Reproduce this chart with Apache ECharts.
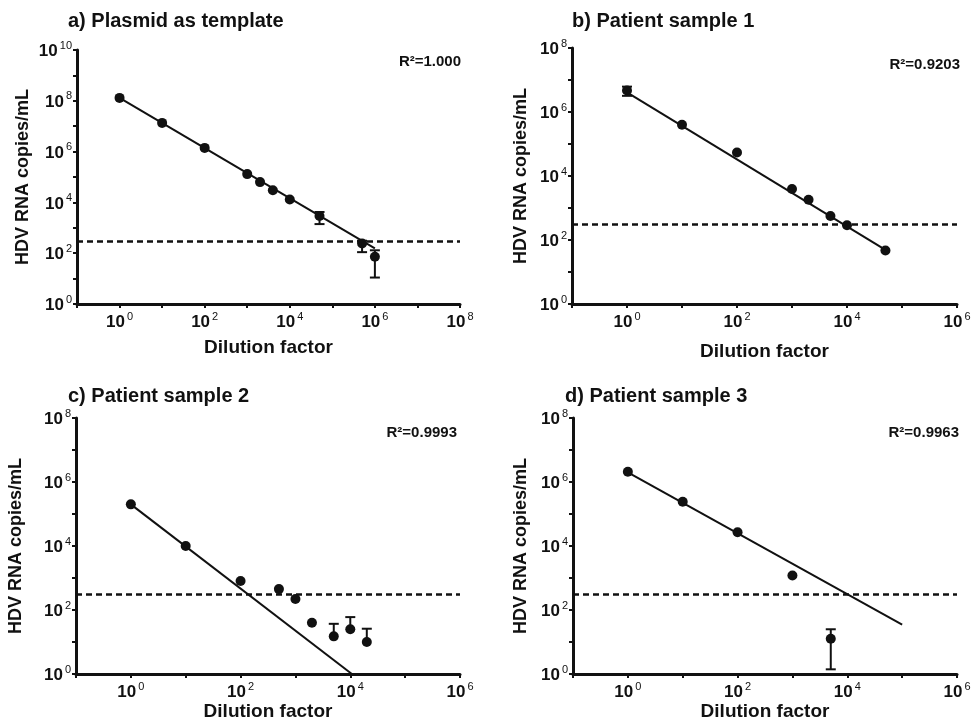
<!DOCTYPE html>
<html>
<head>
<meta charset="utf-8">
<script src="https://cdn.jsdelivr.net/npm/echarts@6/dist/echarts.min.js"></script>
<style>html,body{margin:0;padding:0;background:#fff}#c{width:971px;height:724px}</style>
</head>
<body>
<div id="c"></div>
<script>
// ---- data ----
const LOD = 300;

const titles = ['a) Plasmid as template', 'b) Patient sample 1', 'c) Patient sample 2', 'd) Patient sample 3'];
const r2Labels = ['R\u00B2=1.000', 'R\u00B2=0.9203', 'R\u00B2=0.9993', 'R\u00B2=0.9963'];
const xAxisName = 'Dilution factor';
const yAxisName = 'HDV RNA copies/mL';

const aX = [1, 10, 100, 1000, 2000, 4000, 10000, 50000, 500000, 1000000];
const aY = [1.3e8, 1.35e7, 1.4e6, 1.3e5, 6.3e4, 3.0e4, 1.3e4, 2.9e3, 2.4e2, 73];
const aLo = [null, null, null, null, null, null, null, 1.4e3, 1.1e2, 11];
const aHi = [null, null, null, null, null, null, null, 4.2e3, 3.1e2, 1.3e2];
const aFit = [[1, 1.3e8], [1e6, 1.55e2]];

const bX = [1, 10, 100, 1000, 2000, 5000, 10000, 50000];
const bY = [4.7e6, 4.0e5, 5.4e4, 3.9e3, 1.8e3, 5.6e2, 2.9e2, 47];
const bLo = [3.2e6, null, null, null, null, null, null, null];
const bHi = [6.2e6, null, null, null, null, null, null, null];
const bFit = [[1, 4.1e6], [5e4, 49]];

const cX = [1, 10, 100, 500, 1000, 2000, 5000, 10000, 20000];
const cY = [2.0e5, 1.0e4, 8.1e2, 4.5e2, 2.2e2, 40, 15, 25, 10];
const cLo = [null, null, null, null, null, null, null, null, null];
const cHi = [null, null, null, null, null, null, 37, 60, 26];
const cFit = [[1, 2.0e5], [1.07e4, 1]];

const dX = [1, 10, 100, 1000, 5000];
const dY = [2.1e6, 2.4e5, 2.7e4, 1.2e3, 12.7];
const dLo = [null, null, null, null, 1.4];
const dHi = [null, null, null, null, 25];
const dFit = [[1, 2.0e6], [1e5, 35]];

const xMaxes = [1e8, 1e6, 1e6, 1e6];
const yMaxes = [1e10, 1e8, 1e8, 1e8];

// ---- layout ----
const FONT = 'Liberation Sans, Arial, Helvetica, sans-serif';
const INK = '#111';
const grids = [
  {left: 77, top: 50, width: 383, height: 254},
  {left: 572, top: 48, width: 385, height: 256},
  {left: 76, top: 418, width: 384, height: 256},
  {left: 573, top: 418, width: 384, height: 256}
];
const xNameGaps = [34, 38, 26, 27];
const yNameGaps = [45, 42, 51, 43];
const titlePos = [[68, 11], [572, 11], [68, 386], [565, 386]];
const r2Pos = [[461, 62], [960, 65], [457, 433], [959, 433]];

const panels = [
  [aX, aY, aLo, aHi, aFit],
  [bX, bY, bLo, bHi, bFit],
  [cX, cY, cLo, cHi, cFit],
  [dX, dY, dLo, dHi, dFit]
];

function powLabel(v) {
  const e = Math.round(Math.log10(v));
  if (e < 0 || e % 2 !== 0) return '';
  return '{b|10}{s|' + e + '}';
}
const richLab = {
  b: {fontSize: 17, fontWeight: 'bold', fontFamily: FONT, color: INK, lineHeight: 20, verticalAlign: 'bottom'},
  s: {fontSize: 11, fontWeight: 'normal', fontFamily: FONT, color: INK, lineHeight: 20, verticalAlign: 'top', padding: [0, 0, 0, 2]}
};

const option = {
  animation: false,
  backgroundColor: '#fff',
  title: titles.map((t, i) => ({
    text: t, left: titlePos[i][0], top: titlePos[i][1], padding: 0,
    textStyle: {fontSize: 20, fontWeight: 'bold', fontFamily: FONT, color: INK}
  })),
  grid: grids.map(g => Object.assign({containLabel: false, outerBoundsMode: 'none'}, g)),
  xAxis: [], yAxis: [], series: [],
  graphic: r2Labels.map((t, i) => ({
    type: 'text', x: r2Pos[i][0], y: r2Pos[i][1],
    style: {text: t, align: 'right', verticalAlign: 'middle', fontSize: 15, fontWeight: 'bold', fontFamily: FONT, fill: INK}
  }))
};

panels.forEach((p, i) => {
  const [X, Y, LO, HI, FIT] = p;
  option.xAxis.push({
    type: 'log', logBase: 10, gridIndex: i, min: 0.1, max: xMaxes[i], interval: 1,
    name: xAxisName, nameLocation: 'middle', nameGap: xNameGaps[i],
    nameTextStyle: {fontSize: 19, fontWeight: 'bold', fontFamily: FONT, color: INK},
    axisLine: {onZero: false, lineStyle: {color: INK, width: 3}},
    axisTick: {show: true, length: 4, lineStyle: {color: INK, width: 2}},
    axisLabel: {formatter: powLabel, rich: richLab, margin: 7, showMinLabel: true, showMaxLabel: true, hideOverlap: false},
    splitLine: {show: false}
  });
  option.yAxis.push({
    type: 'log', logBase: 10, gridIndex: i, min: 1, max: yMaxes[i], interval: 1,
    name: yAxisName, nameLocation: 'middle', nameGap: yNameGaps[i],
    nameTextStyle: {fontSize: 18, fontWeight: 'bold', fontFamily: FONT, color: INK},
    axisLine: {onZero: false, lineStyle: {color: INK, width: 3}},
    axisTick: {show: true, length: 4, lineStyle: {color: INK, width: 2}},
    axisLabel: {formatter: powLabel, rich: richLab, margin: 5, showMinLabel: true, showMaxLabel: true, hideOverlap: false},
    splitLine: {show: false}
  });
  // regression line
  option.series.push({
    type: 'line', xAxisIndex: i, yAxisIndex: i, data: FIT, symbol: 'none',
    lineStyle: {color: INK, width: 2}, silent: true, z: 2
  });
  // points + LOD line
  option.series.push({
    type: 'scatter', xAxisIndex: i, yAxisIndex: i,
    data: X.map((x, k) => [x, Y[k]]),
    symbol: 'circle', symbolSize: 10, itemStyle: {color: INK, opacity: 1}, z: 3,
    markLine: {
      silent: true, symbol: ['none', 'none'], label: {show: false},
      lineStyle: {color: INK, width: 2.5, type: [6, 4], opacity: 1},
      data: [{yAxis: LOD}]
    }
  });
  // error bars
  const errData = [];
  X.forEach((x, k) => {
    if (LO[k] == null && HI[k] == null) return;
    errData.push([x, LO[k] == null ? Y[k] : LO[k], HI[k] == null ? Y[k] : HI[k], LO[k] == null ? 0 : 1, HI[k] == null ? 0 : 1]);
  });
  option.series.push({
    type: 'custom', xAxisIndex: i, yAxisIndex: i, z: 4, silent: true,
    data: errData,
    renderItem: function (params, api) {
      const x = api.value(0);
      const lo = api.coord([x, api.value(1)]);
      const hi = api.coord([x, api.value(2)]);
      const cap = 5;
      const children = [{
        type: 'line', shape: {x1: lo[0], y1: lo[1], x2: hi[0], y2: hi[1]},
        style: {stroke: INK, lineWidth: 2}
      }];
      if (api.value(3)) children.push({type: 'line', shape: {x1: lo[0] - cap, y1: lo[1], x2: lo[0] + cap, y2: lo[1]}, style: {stroke: INK, lineWidth: 2}});
      if (api.value(4)) children.push({type: 'line', shape: {x1: hi[0] - cap, y1: hi[1], x2: hi[0] + cap, y2: hi[1]}, style: {stroke: INK, lineWidth: 2}});
      return {type: 'group', children: children};
    }
  });
});

const chart = echarts.init(document.getElementById('c'), null, {renderer: 'canvas'});
chart.setOption(option);
</script>
</body>
</html>
